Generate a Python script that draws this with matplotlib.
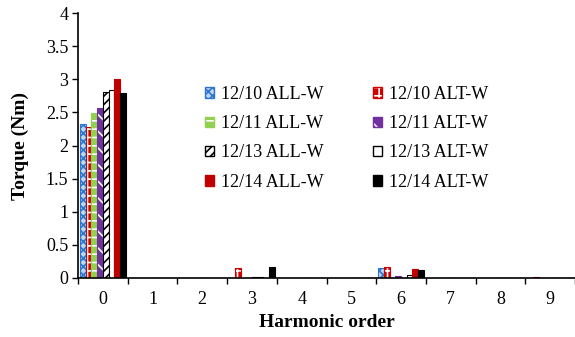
import matplotlib
matplotlib.use("Agg")
import matplotlib.pyplot as plt
from matplotlib.patches import Patch
from matplotlib.legend_handler import HandlerTuple
import numpy as np

plt.rcParams['font.family'] = ['Liberation Serif', 'DejaVu Serif']
plt.rcParams['hatch.linewidth'] = 1.2

harmonics = [0, 1, 2, 3, 4, 5, 6, 7, 8, 9]
series_names = ["12/10 ALL-W", "12/10 ALT-W", "12/11 ALL-W", "12/11 ALT-W",
                "12/13 ALL-W", "12/13 ALT-W", "12/14 ALL-W", "12/14 ALT-W"]
v_1210_all = [2.32, 0.004, 0.004, 0.004, 0.004, 0.004, 0.15, 0.004, 0.004, 0.004]
v_1210_alt = [2.28, 0.005, 0.005, 0.15, 0.005, 0.005, 0.17, 0.005, 0.005, 0.015]
v_1211_all = [2.49, 0.003, 0.003, 0.003, 0.003, 0.003, 0.003, 0.003, 0.003, 0.003]
v_1211_alt = [2.57, 0.003, 0.003, 0.003, 0.003, 0.003, 0.03, 0.003, 0.003, 0.003]
v_1213_all = [2.81, 0.003, 0.003, 0.01, 0.003, 0.003, 0.003, 0.003, 0.003, 0.003]
v_1213_alt = [2.84, 0.003, 0.003, 0.01, 0.003, 0.003, 0.04, 0.003, 0.003, 0.003]
v_1214_all = [3.01, 0.004, 0.004, 0.004, 0.004, 0.004, 0.14, 0.004, 0.004, 0.004]
v_1214_alt = [2.80, 0.003, 0.003, 0.17, 0.003, 0.003, 0.12, 0.003, 0.003, 0.003]
values = [v_1210_all, v_1210_alt, v_1211_all, v_1211_alt,
          v_1213_all, v_1213_alt, v_1214_all, v_1214_alt]
y_ticks = [0, 0.5, 1, 1.5, 2, 2.5, 3, 3.5, 4]
y_ticklabels = ["0", "0.5", "1", "1.5", "2", "2.5", "3", "3.5", "4"]

# (face, hatch colour, hatch, edge colour)
styles = [
    ('#BDD7EE', '#2E75D0', 'xxxx', '#2E75D0'),
    ('#D00000', 'white', '++', '#D00000'),
    ('#92D050', 'white', '--', '#92D050'),
    ('#7030A0', 'white', '\\\\', '#7030A0'),
    ('white', 'black', '////', 'black'),
    ('white', 'white', None, 'black'),
    ('#C00000', '#C00000', None, '#C00000'),
    ('black', 'black', None, 'black'),
]

fig = plt.figure(figsize=(5.75, 3.37), dpi=100)
ax = fig.add_axes([78/575, 1-278/337, 1-78/575, (278-13)/337])

x = np.arange(len(harmonics))
n = len(values)
width = 0.115
handles = []
for i, (vals, (fc, hc, h, ec)) in enumerate(zip(values, styles)):
    offs = (i - (n - 1) / 2) * width
    ax.bar(x + offs, vals, width, facecolor=fc, edgecolor=hc, hatch=h, linewidth=0)
    ax.bar(x + offs, vals, width, fill=False, edgecolor=ec, linewidth=0.8)
    handles.append((Patch(facecolor=fc, edgecolor=hc, hatch=h, linewidth=0),
                    Patch(fill=False, edgecolor=ec, linewidth=1.0)))

ax.set_xlim(-0.5, 9.44)
ax.set_ylim(0, 4)
ax.set_yticks(y_ticks)
ax.set_yticklabels(y_ticklabels)
ax.set_xticks(x)
ax.set_xticklabels([str(h) for h in harmonics])
ax.set_xticks(np.arange(-0.5, 9.6, 1.0), minor=True)
ax.tick_params(axis='x', which='major', length=0, labelsize=13, pad=9)
ax.tick_params(axis='x', which='minor', length=4, width=1, direction='out')
ax.tick_params(axis='y', which='major', length=4, width=1, direction='out', labelsize=13, pad=3)
for s in ['top', 'right']:
    ax.spines[s].set_visible(False)
for s in ['left', 'bottom']:
    ax.spines[s].set_linewidth(1.2)

ax.set_ylabel("Torque (Nm)", fontsize=14, fontweight='bold', labelpad=12)
ax.set_xlabel("Harmonic order", fontsize=14, fontweight='bold', labelpad=5)

# row-wise ordering for a 2-column legend
order = [0, 2, 4, 6, 1, 3, 5, 7]
ax.legend([handles[k] for k in order], [series_names[k] for k in order],
          handler_map={tuple: HandlerTuple(ndivide=1, pad=0)},
          ncol=2, loc='upper left', bbox_to_anchor=(0.24, 0.752), frameon=False,
          fontsize=13, handlelength=0.5, handleheight=0.5, handletextpad=0.4,
          columnspacing=2.75, labelspacing=0.68, borderaxespad=0)

fig.savefig("out.png", dpi=100)
